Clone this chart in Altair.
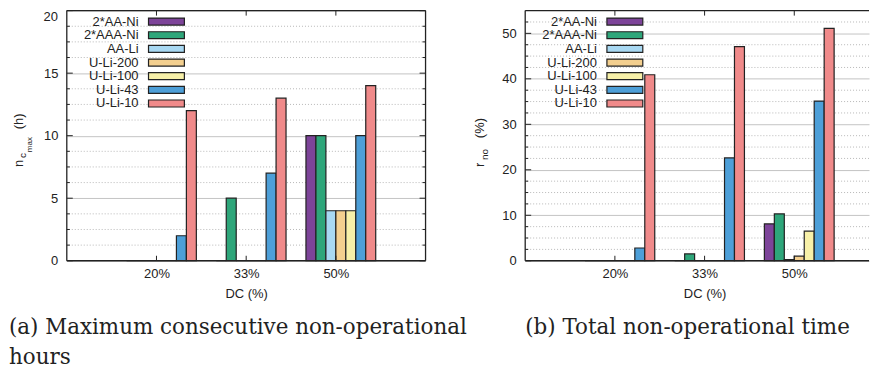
import altair as alt
import pandas as pd

FONT = "Liberation Sans"
SERIF = "DejaVu Serif"
INK = "#222222"

categories = ["20%", "33%", "50%"]
series = ["2*AA-Ni", "2*AAA-Ni", "AA-Li", "U-Li-200", "U-Li-100", "U-Li-43", "U-Li-10"]
colors = ["#7d4499", "#2ea67a", "#a8d8f2", "#f3cf8f", "#f7f0a8", "#4d9fd8", "#f08a8a"]

# (a) maximum consecutive non-operational hours, one list per series (20%, 33%, 50%)
ncmax_aa_ni = [0, 0, 10]
ncmax_aaa_ni = [0, 5, 10]
ncmax_aa_li = [0, 0, 4]
ncmax_uli200 = [0, 0, 4]
ncmax_uli100 = [0, 0, 4]
ncmax_uli43 = [2, 7, 10]
ncmax_uli10 = [12, 13, 14]

# (b) total non-operational time (%)
rno_aa_ni = [0, 0, 8.1]
rno_aaa_ni = [0, 1.5, 10.3]
rno_aa_li = [0, 0, 0.25]
rno_uli200 = [0, 0, 1.0]
rno_uli100 = [0, 0, 6.5]
rno_uli43 = [2.8, 22.6, 35.1]
rno_uli10 = [40.9, 47.1, 51.1]

ncmax_ticks = [0, 5, 10, 15, 20]
rno_ticks = [0, 10, 20, 30, 40, 50]
rno_top = 55

caption_a = ["(a) Maximum consecutive non-operational", "hours"]
caption_b = "(b) Total non-operational time"
x_title = "DC (%)"

H = 251
UNIT = 90.0          # pixels per category step
W_L = 360
W_R = 345            # right panel is cut by the page edge in the reference
NS = len(series)
label_expr = "[" + ",".join("'%s'" % c for c in categories) + "][datum.value - 1]"


def long_df(lists):
    rows = []
    for si, (name, vals) in enumerate(zip(series, lists)):
        for ci, (cat, v) in enumerate(zip(categories, vals)):
            rows.append({"series": name, "si": si, "cat": cat, "ci": ci, "value": v})
    return pd.DataFrame(rows)


dummy = pd.DataFrame({"d": [0]})
fill_scale = alt.Scale(domain=series, range=colors)


def ttext(txt, x, y, size):
    return alt.Chart(dummy).mark_text(
        text=txt, angle=270, align="left", baseline="alphabetic",
        font=FONT, fontSize=size, color=INK
    ).encode(x=alt.value(x), y=alt.value(y))


def hline(y, x1, x2):
    return alt.Chart(dummy).mark_rule(color=INK, strokeWidth=1.3).encode(
        x=alt.value(x1), x2=alt.value(x2), y=alt.value(y))


def vline(x, y1, y2):
    return alt.Chart(dummy).mark_rule(color=INK, strokeWidth=1.3).encode(
        x=alt.value(x), y=alt.value(y1), y2=alt.value(y2))


def panel(lists, ticks, ymax, minor_step, width, caption, cap_dx, title_layers, right_border, top_label=None):
    major = ticks[1] - ticks[0]
    df = long_df(lists)
    bars = alt.Chart(df).transform_calculate(
        x0="datum.ci + 1 + (datum.si - 3) / 9",
        x1="datum.ci + 1 + (datum.si - 2) / 9",
    ).mark_bar(stroke=INK, strokeWidth=1.2).encode(
        x=alt.X("x0:Q", scale=alt.Scale(domain=[0, width / UNIT], nice=False, zero=False),
                axis=alt.Axis(values=list(range(1, len(categories) + 1)), labelExpr=label_expr,
                              title=x_title, titleX=UNIT * 2, grid=False, ticks=False, domain=False,
                              labelPadding=7, titlePadding=7, labelAngle=0)),
        x2="x1:Q",
        y=alt.Y("value:Q", scale=alt.Scale(domain=[0, ymax], nice=False),
                axis=alt.Axis(values=ticks, title=None, grid=True, gridColor="#c4c4c4",
                              gridWidth=1, ticks=False, domain=False, labelPadding=9,
                              labelExpr=("datum.value == %s ? '' : datum.label" % ymax) if top_label else "datum.label")),
        y2=alt.datum(0),
        fill=alt.Fill("series:N", scale=fill_scale, legend=None),
    )
    seq = alt.sequence(0, ymax, minor_step, as_="m")
    mfilter = "datum.m %% %s != 0" % major
    minor = alt.Chart(seq).transform_filter(mfilter).mark_rule(
        color="#b8b8b8", strokeDash=[1, 2], strokeWidth=1
    ).encode(y=alt.Y("m:Q", title=None))
    minor_tl = alt.Chart(seq).transform_filter(mfilter).mark_rule(
        color=INK, strokeWidth=1).encode(y=alt.Y("m:Q", title=None), x=alt.value(0), x2=alt.value(3))
    tdf = pd.DataFrame({"t": ticks})
    major_tl = alt.Chart(tdf).mark_rule(color=INK, strokeWidth=1).encode(
        y=alt.Y("t:Q", title=None), x=alt.value(0), x2=alt.value(6))
    cdf = pd.DataFrame({"cat": categories, "c": list(range(1, len(categories) + 1))})
    xt_b = alt.Chart(cdf).mark_rule(color=INK, strokeWidth=1).encode(
        x=alt.X("c:Q", title=x_title), y=alt.value(H - 5), y2=alt.value(H))
    xt_t = alt.Chart(cdf).mark_rule(color=INK, strokeWidth=1).encode(
        x=alt.X("c:Q", title=x_title), y=alt.value(0), y2=alt.value(5))

    leg = pd.DataFrame({"series": series, "si": list(range(NS))})
    lbase = alt.Chart(leg).transform_calculate(
        ly="11 + datum.si * 13.7", ly1="datum.ly - 3.5", ly2="datum.ly + 3.5")
    lrect = lbase.mark_rect(stroke=INK, strokeWidth=1.2).encode(
        x=alt.value(82), x2=alt.value(118),
        y=alt.Y("ly1:Q", scale=None, axis=None), y2="ly2:Q",
        fill=alt.Fill("series:N", scale=fill_scale, legend=None))
    ltext = lbase.mark_text(align="right", baseline="middle", font=FONT, fontSize=13, color=INK).encode(
        x=alt.value(72), y=alt.Y("ly:Q", scale=None, axis=None), text="series:N")

    borders = [vline(0, 0, H), hline(0, 0, width), hline(H, 0, width)]
    layers = [minor, bars, minor_tl, major_tl, xt_b, xt_t, lrect, ltext] + borders + title_layers
    if right_border:
        layers.append(vline(width, 0, H))
        layers.append(alt.Chart(seq).transform_filter(mfilter).mark_rule(
            color=INK, strokeWidth=1).encode(y=alt.Y("m:Q", title=None), x=alt.value(width - 3), x2=alt.value(width)))
        layers.append(alt.Chart(tdf).mark_rule(color=INK, strokeWidth=1).encode(
            y=alt.Y("t:Q", title=None), x=alt.value(width - 6), x2=alt.value(width)))
    if top_label:
        layers.append(alt.Chart(dummy).mark_text(
            text=top_label, align="right", baseline="top", font=FONT, fontSize=13, color=INK
        ).encode(x=alt.value(-9), y=alt.datum(ymax)))
    return alt.layer(*layers).properties(
        width=width, height=H,
        title=alt.TitleParams(text=caption, orient="bottom", anchor="start", frame="group",
                              dx=cap_dx, offset=17, font=SERIF, fontSize=21.5, fontWeight="normal",
                              color=INK, lineHeight=30),
    )


left_lists = [ncmax_aa_ni, ncmax_aaa_ni, ncmax_aa_li, ncmax_uli200, ncmax_uli100, ncmax_uli43, ncmax_uli10]
right_lists = [rno_aa_ni, rno_aaa_ni, rno_aa_li, rno_uli200, rno_uli100, rno_uli43, rno_uli10]

left_title = [ttext("n", -44, 157, 13), ttext("c", -41, 148, 10), ttext("max", -35, 142, 8),
              ttext("(h)", -44, 119, 13)]
right_title = [ttext("r", -41, 157, 13), ttext("no", -37, 150, 10), ttext("(%)", -41, 128, 13)]

left = panel(left_lists, ncmax_ticks, ncmax_ticks[-1], 1.25, W_L, caption_a, -58, left_title, True,
             top_label=str(ncmax_ticks[-1]))
right = panel(right_lists, rno_ticks, rno_top, 2.5, W_R, caption_b, 0, right_title, False)

chart = alt.hconcat(left, right, spacing=100, bounds="flush").configure_view(
    stroke="transparent"
).configure_axis(
    labelFont=FONT, titleFont=FONT, labelFontSize=13, titleFontSize=13,
    labelColor=INK, titleColor=INK, titleFontWeight="normal"
).properties(padding={"left": 0, "top": 0, "right": 0, "bottom": 0})

chart.save("out.html", embed_options={"renderer": "svg", "actions": False})
